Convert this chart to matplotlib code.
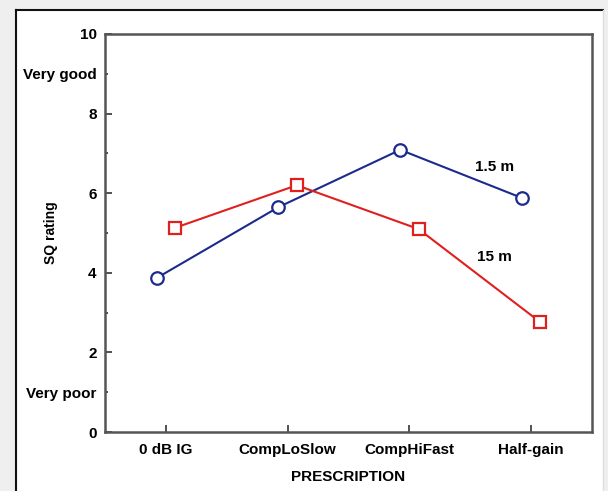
import matplotlib.pyplot as plt
from matplotlib.lines import Line2D

# data
prescriptions = ['0 dB IG', 'CompLoSlow', 'CompHiFast', 'Half-gain']
sq_near = [3.87, 5.65, 7.09, 5.88]   # 1.5 m, blue circles
sq_far = [5.13, 6.2, 5.1, 2.76]      # 15 m, red squares

plt.rcParams['font.family'] = ['Liberation Sans', 'DejaVu Sans']

fig = plt.figure(figsize=(6.08, 4.91), dpi=100, facecolor='#efefef')

# white panel with dark left/top edges
fig.patches.append(plt.Rectangle((16 / 608, 0), (603 - 16) / 608, (491 - 10) / 491,
                                 transform=fig.transFigure, facecolor='white',
                                 edgecolor='none', zorder=-3))
fig.lines.append(Line2D([16 / 608, 16 / 608], [0, (491 - 10) / 491],
                        transform=fig.transFigure, color='#111111', lw=1.5, zorder=-2))
fig.lines.append(Line2D([16 / 608, 603 / 608], [(491 - 10) / 491, (491 - 10) / 491],
                        transform=fig.transFigure, color='#111111', lw=1.5, zorder=-2))
fig.lines.append(Line2D([603 / 608, 603 / 608], [0, (491 - 10) / 491],
                        transform=fig.transFigure, color='#dddddd', lw=1, zorder=-2))

ax = fig.add_axes([105 / 608, 59 / 491, 487 / 608, 398 / 491])
ax.set_facecolor('white')

x = range(len(prescriptions))
off = 0.075
ax.plot([i - off for i in x], sq_near, color='#1c2a8c', lw=1.5, marker='o',
        ms=9, mfc='white', mec='#1c2a8c', mew=1.6, zorder=3)
ax.plot([i + off for i in x], sq_far, color='#e0201e', lw=1.5, marker='s',
        ms=8.5, mfc='white', mec='#e0201e', mew=1.6, zorder=3)

ax.text(2.70, 6.66, '1.5 m', ha='center', va='center', fontsize=11, fontweight='bold')
ax.text(2.70, 4.40, '15 m', ha='center', va='center', fontsize=11, fontweight='bold')

ax.set_xlim(-0.5, 3.5)
ax.set_ylim(0, 10)
ax.set_xticks(list(x))
ax.set_xticklabels(prescriptions)
ax.set_yticks([0, 1, 2, 4, 6, 8, 9, 10])
ax.set_yticklabels(['0', 'Very poor', '2', '4', '6', '8', 'Very good', '10'])
ax.set_yticks([3, 5, 7], minor=True)

ax.tick_params(axis='both', which='major', direction='in', length=5, width=1.2,
               color='#333333', labelsize=11)
ax.tick_params(axis='x', pad=8)
ax.tick_params(axis='y', pad=6)
ax.tick_params(axis='y', which='minor', direction='in', length=2, width=1.2, color='#333333')
for lab in ax.get_xticklabels() + ax.get_yticklabels():
    lab.set_fontweight('bold')
for t in ax.yaxis.get_major_ticks():
    if t.get_loc() in (1, 9):
        t.tick1line.set_markersize(2)

for s in ax.spines.values():
    s.set_color('#555555')
    s.set_linewidth(1.8)

ax.set_xlabel('PRESCRIPTION', fontsize=11, fontweight='bold', labelpad=9)
ax.set_ylabel('SQ rating', fontsize=10, fontweight='bold')
ax.yaxis.set_label_coords(-0.0965, 0.5)

fig.savefig('out.png', dpi=100, facecolor=fig.get_facecolor())
